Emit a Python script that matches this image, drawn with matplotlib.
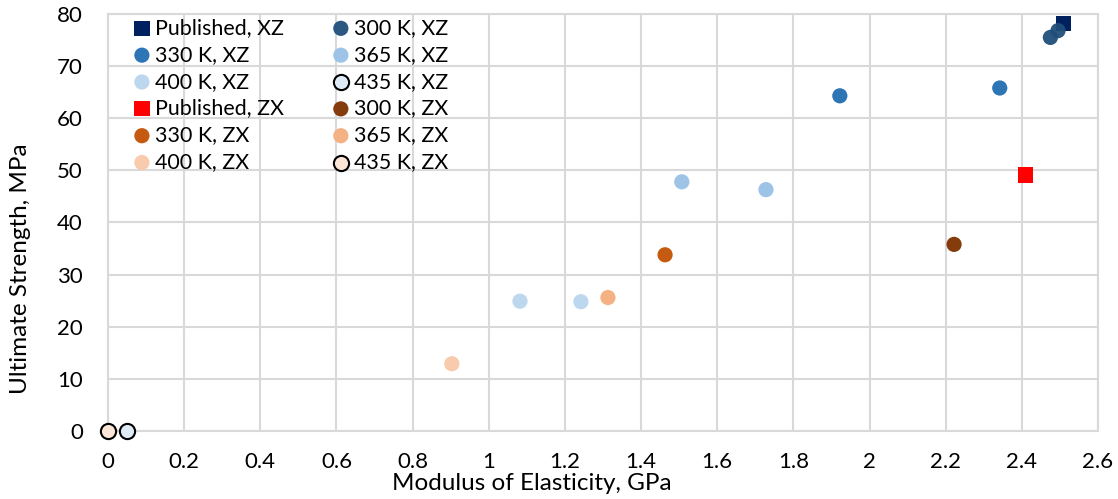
import matplotlib.pyplot as plt

plt.rcParams['font.family'] = ['Lato', 'DejaVu Sans']

# series: (label, x values GPa, y values MPa)
labels = ["Published, XZ", "300 K, XZ", "330 K, XZ", "365 K, XZ", "400 K, XZ", "435 K, XZ",
          "Published, ZX", "300 K, ZX", "330 K, ZX", "365 K, ZX", "400 K, ZX", "435 K, ZX"]
mod_x = [[2.51], [2.475, 2.495], [1.922, 2.342], [1.507, 1.728], [1.082, 1.242], [0.05],
         [2.41], [2.222], [1.463], [1.313], [0.903], [0.0]]
strength_y = [[78.1], [75.5, 76.8], [64.3, 65.8], [47.8, 46.3], [24.9, 24.8], [0.0],
              [49.1], [35.8], [33.8], [25.6], [12.9], [0.0]]

colors = ["#002060", "#1f4e79", "#2e75b6", "#9dc3e6", "#bdd7ee", "#deebf7",
          "#ff0000", "#843c0c", "#c55a11", "#f4b183", "#f8cbad", "#fbe5d6"]
markers = ["s", "o", "o", "o", "o", "o", "s", "o", "o", "o", "o", "o"]
edges = ["none"] * 5 + ["black"] + ["none"] * 5 + ["black"]

fig = plt.figure(figsize=(11.18, 4.99), dpi=100)
ax = fig.add_axes([0.0966, 0.1363, 0.8855, 0.8357])

handles = []
for i in range(len(labels)):
    h = ax.scatter(mod_x[i], strength_y[i], s=120, marker=markers[i], color=colors[i],
                   edgecolors=edges[i], linewidths=1.5, label=labels[i],
                   alpha=0.95 if i == 1 else 1, zorder=3, clip_on=False)
    handles.append(h)

ax.set_xlim(0, 2.6)
ax.set_ylim(0, 80)
ax.set_xticks([0, 0.2, 0.4, 0.6, 0.8, 1, 1.2, 1.4, 1.6, 1.8, 2, 2.2, 2.4, 2.6])
ax.set_xticklabels(["0", "0.2", "0.4", "0.6", "0.8", "1", "1.2", "1.4", "1.6", "1.8",
                    "2", "2.2", "2.4", "2.6"])
ax.set_yticks(range(0, 81, 10))
ax.grid(True, color="#d9d9d9", linewidth=1.5, zorder=0)
ax.set_axisbelow(True)
for s in ax.spines.values():
    s.set_color("#d9d9d9")
    s.set_linewidth(1.5)
ax.tick_params(length=0, labelsize=16)
ax.tick_params(axis="x", pad=15)
ax.tick_params(axis="y", pad=18)

ax.set_xlabel("Modulus of Elasticity, GPa", fontsize=17.5, va="center")
ax.xaxis.set_label_coords(0.428, -0.127)
ax.set_ylabel("Ultimate Strength, MPa", fontsize=17.5, va="center")
ax.yaxis.set_label_coords(-0.088, 0.388)

# legend is filled row by row in the reference
order = [0, 2, 4, 6, 8, 10, 1, 3, 5, 7, 9, 11]
ax.legend([handles[i] for i in order], [labels[i] for i in order],
          ncol=2, loc="upper left", bbox_to_anchor=(0.0148, 1.011), borderaxespad=0,
          frameon=False, fontsize=15.4, handletextpad=0.1, columnspacing=2.17,
          labelspacing=0.32, handlelength=1.0, markerscale=1.0)

fig.savefig("out.png", dpi=100)
